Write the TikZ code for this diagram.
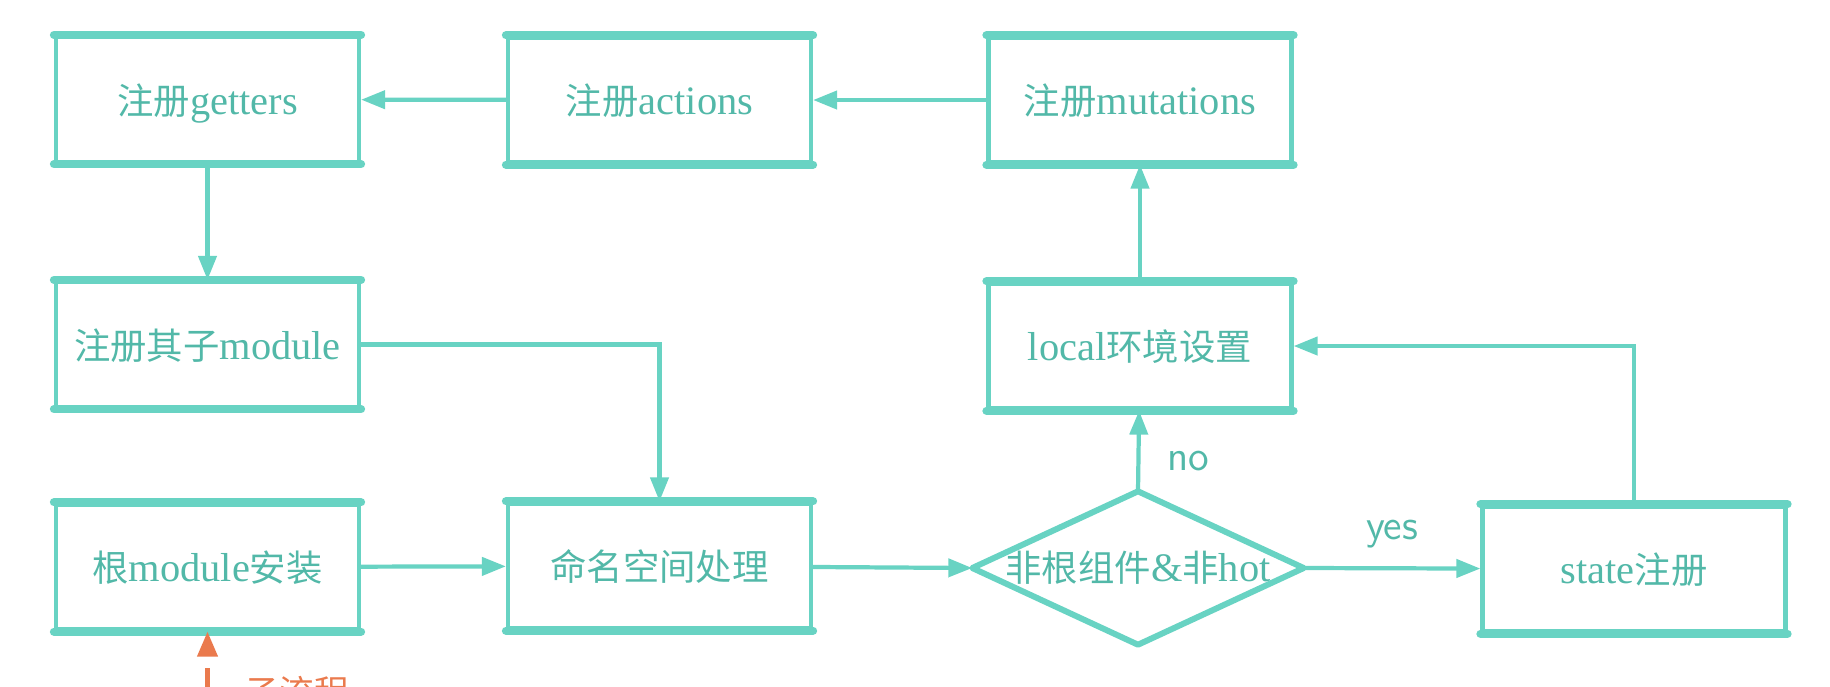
\documentclass[tikz,border=0pt]{standalone}
\usepackage{fontspec}
\setmainfont{Liberation Serif}
\newfontfamily\cjk[Scale=0.9]{Noto Sans CJK SC}
\usetikzlibrary{arrows.meta}
\definecolor{flowteal}{HTML}{68D3C3}
\definecolor{textteal}{HTML}{52B8A8}
\definecolor{suborange}{HTML}{EA7A4D}
\newcommand{\zh}[1]{{\cjk #1}}

\begin{document}
\begin{tikzpicture}[
	regbox/.style={draw=flowteal, line width=1.2pt, minimum width=3.03cm, minimum height=1.25cm, inner sep=0pt, text height=0.9em, text depth=0.05em, text=textteal, font=\fontsize{11.5}{13}\selectfont},
	choice/.style={minimum width=3.3cm, minimum height=1.52cm, inner sep=0pt, text height=0.85em, text depth=0.1em, text=textteal, font=\fontsize{11.5}{13}\selectfont},
	edge/.style={draw=flowteal, line width=2.3pt, line cap=round},
	flow/.style={draw=flowteal, line width=1.2pt, -{Triangle[length=0.24cm,width=0.18cm]}},
	subflow/.style={draw=suborange, line width=1.2pt, -{Triangle[length=0.25cm,width=0.2cm]}},
	tag/.style={text=textteal, font=\sffamily\fontsize{12}{14}\selectfont}
	]
	%%%%% START %%%%%
	\useasboundingbox (0, 0) rectangle (18.3, -6.86);
	
	\node[regbox] (getters) at (2.075, -0.995) {\zh{注册}getters};
	\node[regbox] (actions) at (6.595, -1.0) {\zh{注册}actions};
	\node[regbox] (mutations) at (11.40, -1.0) {\zh{注册}mutations};
	
	\node[regbox] (module) at (2.075, -3.445) {\zh{注册其子}module};
	\node[regbox] (local) at (11.40, -3.46) {local\zh{环境设置}};
	
	\node[regbox] (root) at (2.075, -5.67) {\zh{根}module\zh{安装}};
	\node[regbox] (ns) at (6.595, -5.66) {\zh{命名空间处理}};
	\node[choice] (dec) at (11.38, -5.68) {\zh{非根组件}\&\zh{非}hot};
	\node[regbox] (state) at (16.34, -5.69) {state\zh{注册}};
	
	\draw[draw=flowteal, line width=1.7pt, line join=round] (dec.west) -- (dec.north) -- (dec.east) -- (dec.south) -- cycle;
	
	% thick top and bottom edges
	\foreach \b in {getters, actions, mutations, module, local, root, ns, state}{
		\draw[edge] (\b.north west) -- (\b.north east);
		\draw[edge] (\b.south west) -- (\b.south east);
	}
	
	\draw[flow] (mutations) -- (actions);
	\draw[flow] (actions) -- (getters);
	\draw[flow] (getters) -- (module);
	\draw[flow] (module.east) -| (ns.north);
	\draw[flow] (root) -- (ns);
	\draw[flow] (ns) -- (dec.west);
	\draw[flow] (dec.east) -- node[tag, above=0.06cm] {yes} (state);
	\draw[flow] (dec.north) -- node[tag, right=0.15cm, yshift=-0.1cm] {no} (local);
	\draw[flow] (state.north) |- (local.east);
	\draw[flow] (local) -- (mutations);
	
	\coordinate (subin) at (2.075, -6.95);
	\draw[subflow, dash pattern=on 0.27cm off 2cm] (subin) -- (root.south);
	\node[anchor=north west, text=suborange, font=\fontsize{11}{13}\selectfont] (sublabel) at (2.32, -6.64) {\zh{子流程}};
	
	%%%%% END %%%%%
\end{tikzpicture}
\end{document}
